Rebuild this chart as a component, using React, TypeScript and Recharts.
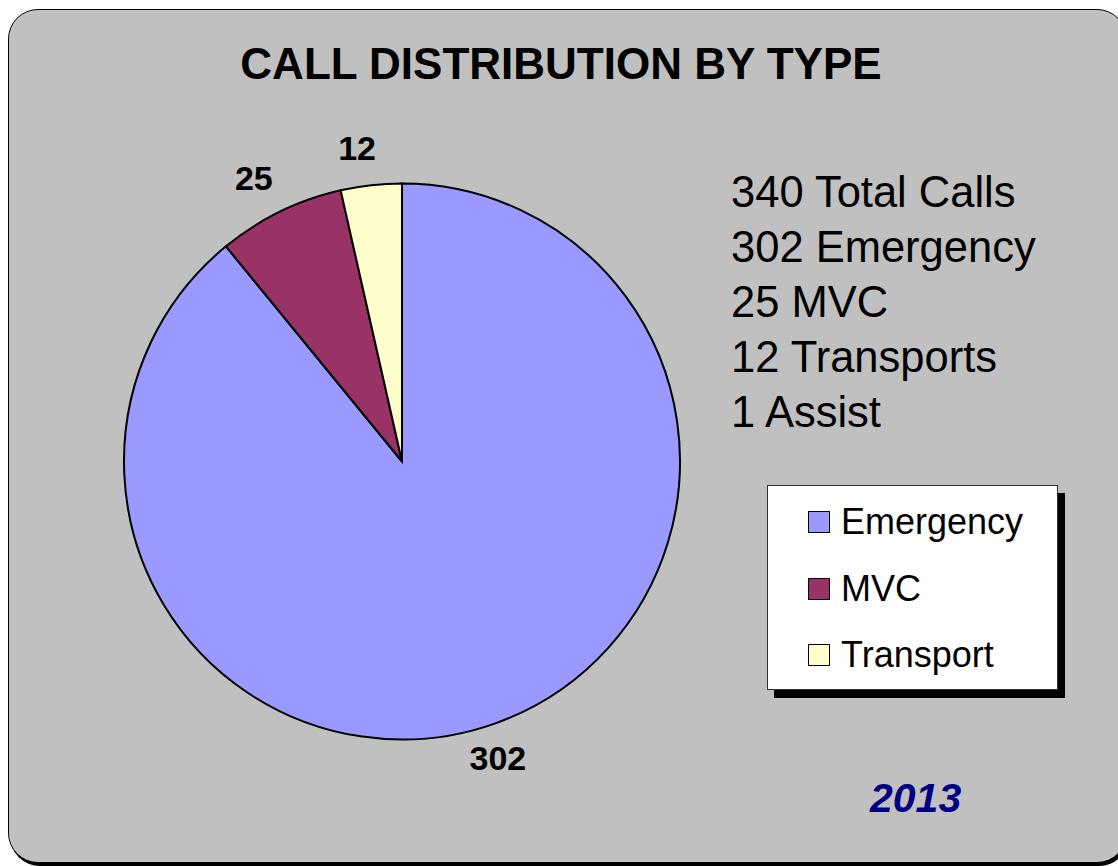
import React from "react"
import { PieChart, Pie, Cell, Legend } from "recharts"

const categories = ["Emergency", "MVC", "Transport"]
const callCounts = [302, 25, 12]
const sliceColors = ["#9999FF", "#993366", "#FFFFCC"]
const assistCalls = 1
const summaryLabels = ["Total Calls", "Emergency", "MVC", "Transports", "Assist"]
const yearLabel = "2013"

const totalCalls = callCounts.reduce((a, b) => a + b, 0) + assistCalls
const summaryCounts = [totalCalls, ...callCounts, assistCalls]

const pieData = categories.map((name, i) => ({ name, value: callCounts[i] }))

const FONT = "'Liberation Sans', Arial, sans-serif"

const renderLabel = (props: any) => {
  const { cx, cy, midAngle, outerRadius, value } = props
  const rad = Math.PI / 180
  const r = outerRadius + 37
  const x = cx + r * Math.cos(-midAngle * rad) - 10
  const y = cy + r * Math.sin(-midAngle * rad)
  return (
    <text
      x={x}
      y={y}
      textAnchor="middle"
      dominantBaseline="central"
      fontFamily={FONT}
      fontWeight="bold"
      fontSize={34}
      fill="#000"
    >
      {value}
    </text>
  )
}

const LegendBox = (props: any) => {
  const payload = props.payload || []
  return (
    <div
      style={{
        width: 289,
        height: 203,
        background: "#fff",
        border: "1px solid #333",
        boxShadow: "7px 8px 0 #000",
        position: "relative",
        fontFamily: FONT,
      }}
    >
      {payload.map((entry: any, i: number) => (
        <div
          key={i}
          style={{
            position: "absolute",
            left: 40,
            top: 36 + i * 66.5 - 20,
            height: 40,
            display: "flex",
            alignItems: "center",
          }}
        >
          <span
            style={{
              width: 20,
              height: 20,
              background: entry.color,
              border: "1.5px solid #000",
              display: "inline-block",
            }}
          />
          <span style={{ marginLeft: 11, fontSize: 36, color: "#000" }}>{entry.value}</span>
        </div>
      ))}
    </div>
  )
}

export default function App() {
  return (
    <div style={{ position: "fixed", left: 0, top: 0, width: 1118, height: 866, overflow: "hidden", background: "#fff" }}>
      <div
        style={{
          position: "absolute",
          left: 8,
          top: 9,
          width: 1117,
          height: 852,
          background: "#C0C0C0",
          border: "1.5px solid #000",
          borderRadius: 30,
          boxShadow: "2px 3px 0 #000",
        }}
      />
      <div style={{ position: "absolute", left: 0, top: 0 }}>
        <PieChart width={1118} height={866} margin={{ top: 0, right: 0, bottom: 0, left: 0 }}>
          <text x={561} y={79} textAnchor="middle" fontFamily={FONT} fontWeight="bold" fontSize={44} fill="#000">
            CALL DISTRIBUTION BY TYPE
          </text>
          {summaryLabels.map((label, i) => (
            <text key={label} x={731} y={207 + i * 55} fontFamily={FONT} fontSize={43.5} fill="#000">
              {`${summaryCounts[i]} ${label}`}
            </text>
          ))}
          <text x={870} y={812} fontFamily={FONT} fontWeight="bold" fontStyle="italic" fontSize={41} fill="#000080">
            {yearLabel}
          </text>
          <Pie
            data={pieData}
            dataKey="value"
            nameKey="name"
            cx={402}
            cy={461.5}
            outerRadius={278}
            startAngle={90}
            endAngle={-270}
            label={renderLabel}
            labelLine={false}
            isAnimationActive={false}
          >
            {pieData.map((d, i) => (
              <Cell key={d.name} fill={sliceColors[i]} stroke="#000" strokeWidth={2} />
            ))}
          </Pie>
          <Legend
            content={LegendBox}
            wrapperStyle={{ position: "absolute", left: 767, top: 485, width: 291, height: 205 }}
          />
        </PieChart>
      </div>
    </div>
  )
}
